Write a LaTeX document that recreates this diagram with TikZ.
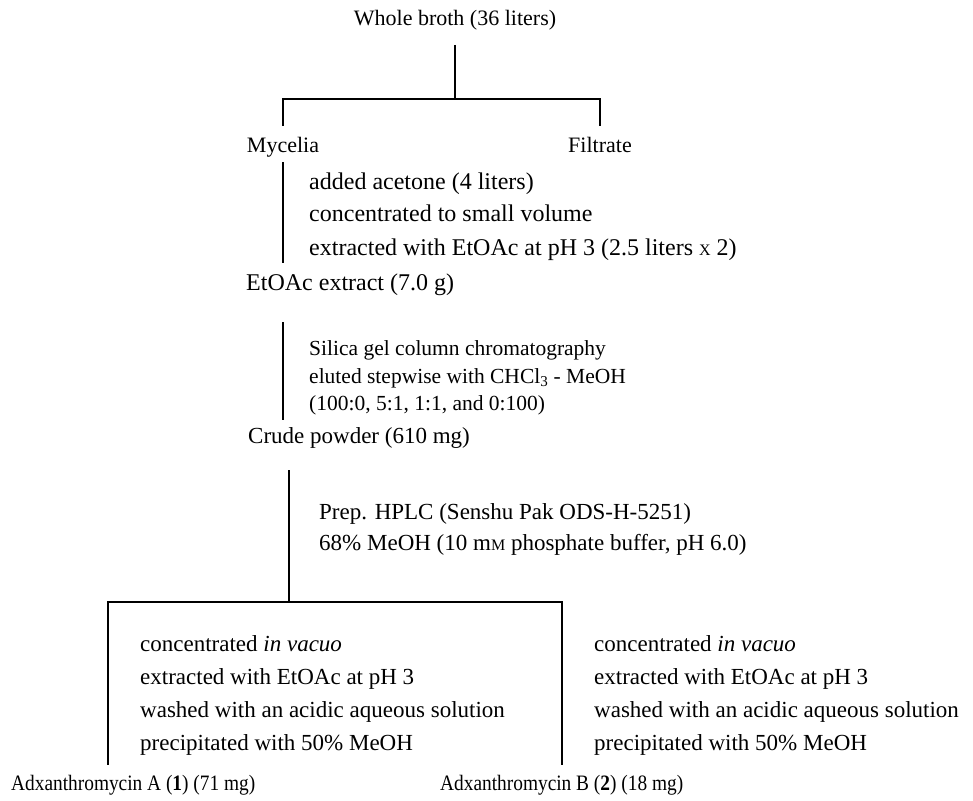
\documentclass[tikz,border=0pt]{standalone}
\usepackage{fontspec}
\setmainfont{Liberation Serif}
\newfontfamily\narrowserif[FakeStretch=0.88]{Liberation Serif}
\usetikzlibrary{positioning}
\tikzset{
  txt/.style={anchor=base west, inner sep=0pt, font=\fontsize{22}{26}\selectfont},
  ttl/.style={anchor=base, inner sep=0pt, font=\fontsize{22}{26}\selectfont},
  big/.style={font=\fontsize{24}{28}\selectfont},
  mid/.style={font=\fontsize{23}{27}\selectfont},
  sml/.style={font=\fontsize{21.5}{25}\selectfont},
  prod/.style={font=\narrowserif\fontsize{22}{26}\selectfont},
  ln/.style={line width=1.2pt}
}
\newcommand{\smallM}{{\fontsize{16}{16}\selectfont M}}

\begin{document}
\begin{tikzpicture}[x=1pt,y=-1pt]
\useasboundingbox (0,0) rectangle (973,800);

\node[ttl] (broth) at (455,26) {Whole broth (36 liters)};
\node[ttl] (myc) at (283,152) {Mycelia};
\node[ttl] (filt) at (600,152) {Filtrate};

\coordinate (split) at (455,99);
\draw[ln] ([yshift=-14pt]broth.south) -- (split);
\draw[ln] (split) -| ([yshift=11pt]myc.north);
\draw[ln] (split) -| ([yshift=11pt]filt.north);

% mycelia -> EtOAc extract
\node[txt,big] (add1) at (309,189) {added acetone (4 liters)};
\node[txt,big] (add2) at (309,221) {concentrated to small volume};
\node[txt,big] (add3) at (309,255) {extracted with EtOAc at pH 3 (2.5 liters  {\fontsize{16}{16}\selectfont X} 2)};
\node[txt,big] (extract) at (246,290) {EtOAc extract (7.0 g)};
\coordinate (s1a) at (283,162);
\coordinate (s1b) at (283,263);
\draw[ln] (s1a) -- (s1b);

% EtOAc extract -> crude powder
\node[txt,sml] (sil1) at (309,355) {Silica gel column chromatography};
\node[txt,sml] (sil2) at (309,383) {eluted stepwise with CHCl\textsubscript{3} - MeOH};
\node[txt,sml] (sil3) at (309,410) {(100:0, 5:1, 1:1, and 0:100)};
\node[txt,mid] (crude) at (248,443) {Crude powder (610 mg)};
\coordinate (s2a) at (283,322);
\coordinate (s2b) at (283,420);
\draw[ln] (s2a) -- (s2b);

% crude powder -> HPLC
\node[txt,mid] (hplc1) at (319,519) {Prep. HPLC (Senshu Pak ODS-H-5251)};
\node[txt,mid] (hplc2) at (319,550) {68\% MeOH (10 m\smallM{} phosphate buffer, pH 6.0)};
\coordinate (s3a) at (289,470);
\coordinate (fork) at (289,602);
\coordinate (endA) at (108,765);
\coordinate (endB) at (562,765);
\draw[ln] (s3a) -- (fork);
\draw[ln] (fork) -| (endA);
\draw[ln] (fork) -| (endB);

% work-up, left and right
\node[txt,mid] (la1) at (140,651) {concentrated \textit{in vacuo}};
\node[txt,mid] (la2) at (140,684) {extracted with EtOAc at pH 3};
\node[txt,mid] (la3) at (140,717) {washed with an acidic aqueous solution};
\node[txt,mid] (la4) at (140,750) {precipitated with 50\% MeOH};
\node[txt,mid] (rb1) at (594,651) {concentrated \textit{in vacuo}};
\node[txt,mid] (rb2) at (594,684) {extracted with EtOAc at pH 3};
\node[txt,mid] (rb3) at (594,717) {washed with an acidic aqueous solution};
\node[txt,mid] (rb4) at (594,750) {precipitated with 50\% MeOH};

\node[txt,prod] (prodA) at (11,790) {Adxanthromycin A (\textbf{1}) (71 mg)};
\node[txt,prod] (prodB) at (440,790) {Adxanthromycin B (\textbf{2}) (18 mg)};
\end{tikzpicture}
\end{document}
